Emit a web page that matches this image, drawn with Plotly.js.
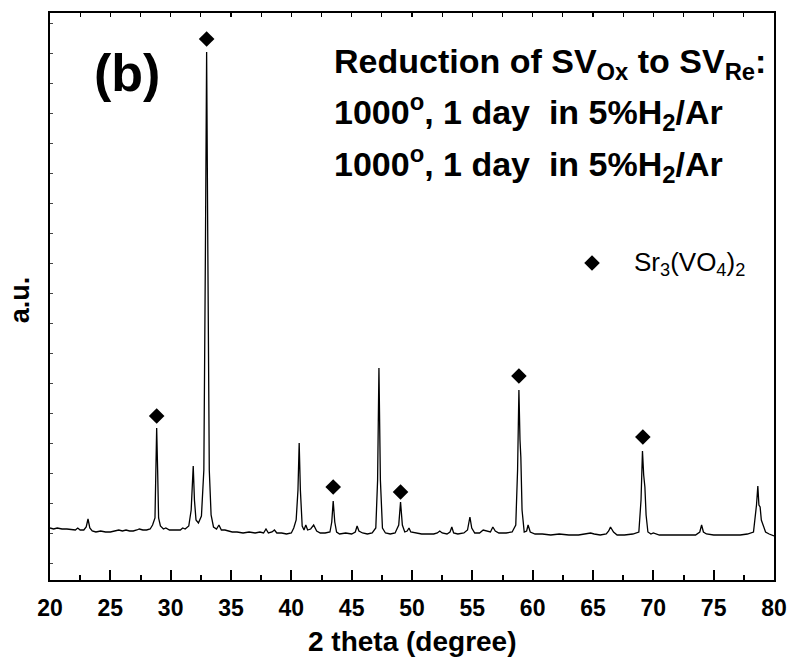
<!DOCTYPE html>
<html>
<head>
<meta charset="utf-8">
<script src="https://cdn.plot.ly/plotly-3.0.1.min.js"></script>
<style>html,body{margin:0;padding:0;background:#fff;}#chart{width:787px;height:657px;}</style>
</head>
<body>
<div id="chart"></div>
<script>
// XRD pattern (2 theta in degrees, intensity in a.u.)
const twoTheta = [
20.0,20.3,20.6,21.0,21.4,21.8,22.1,22.3,22.5,22.8,23.0,23.15,23.3,23.5,23.8,24.2,24.6,25.0,25.4,25.7,
26.0,26.3,26.6,26.9,27.2,27.4,27.7,28.0,28.3,28.5,28.7,28.78,28.84,28.92,29.0,29.15,29.4,29.6,29.9,30.2,
30.5,30.8,31.0,31.2,31.5,31.7,31.87,31.97,32.1,32.3,32.55,32.75,32.88,32.98,33.08,33.2,33.35,33.55,33.8,34.0,
34.2,34.5,34.8,35.1,35.5,36.0,36.5,37.0,37.4,37.7,37.9,38.1,38.4,38.6,38.8,39.2,39.6,40.0,40.2,40.4,
40.55,40.65,40.75,40.9,41.05,41.2,41.35,41.6,41.85,42.1,42.4,42.8,43.2,43.35,43.47,43.6,43.75,44.0,44.5,45.0,
45.3,45.45,45.6,45.9,46.3,46.7,47.0,47.15,47.26,47.38,47.55,47.8,48.2,48.6,48.9,49.05,49.2,49.4,49.6,49.75,
49.9,50.3,50.8,51.3,51.8,52.1,52.3,52.5,52.9,53.15,53.3,53.45,53.8,54.3,54.6,54.8,54.95,55.2,55.6,55.9,
56.2,56.5,56.7,56.9,57.2,57.8,58.3,58.6,58.75,58.86,58.95,59.02,59.12,59.3,59.5,59.62,59.8,60.2,60.8,61.5,
62.2,63.0,63.8,64.5,64.8,65.1,65.6,66.1,66.3,66.45,66.7,67.0,67.6,68.3,68.8,68.98,69.1,69.2,69.3,69.4,
69.55,69.8,70.0,70.5,71.2,72.0,72.8,73.5,73.85,74.0,74.15,74.4,75.0,75.8,76.5,77.2,77.8,78.3,78.55,78.66,
78.75,78.85,78.95,79.1,79.3,79.6,80.0
];
const intensity = [
52,51,52,51,51,50,50,52,50,50,53,61,52,49,48,49,48,48,49,50,
49,50,49,49,50,51,50,50,51,55,62,110,152,110,62,54,51,52,50,50,
50,50,52,51,54,70,114,80,60,57,64,110,330,528,330,110,65,53,51,55,
50,50,49,48,48,47,48,47,48,47,51,47,48,50,47,47,46,47,52,60,
90,137,90,54,50,55,50,51,55,49,47,47,48,58,79,58,48,46,47,46,
48,54,49,47,46,47,52,100,212,100,52,47,46,47,55,78,55,48,49,52,
48,47,46,46,46,47,49,47,46,48,53,47,46,47,50,63,52,47,47,50,
49,48,53,49,47,47,48,55,110,190,140,123,70,48,49,55,48,46,46,45,
46,45,45,46,47,46,45,46,49,53,48,45,45,46,48,80,129,105,93,65,
48,46,47,45,45,45,45,45,48,55,48,46,45,45,45,45,46,48,75,94,
75,73,60,54,48,46,44
];
// Sr3(VO4)2 reflection markers
const markX = [28.84, 32.98, 43.47, 49.05, 58.86, 69.13];
const markY = [164, 541, 93, 88, 204, 143];
const legendX = [64.92];
const legendY = [317];
const xTicks = [20,25,30,35,40,45,50,55,60,65,70,75,80];

const FONT = "Liberation Sans, Arial, Helvetica, sans-serif";

const traces = [
  {x: twoTheta, y: intensity, type: 'scatter', mode: 'lines',
   line: {color: '#000', width: 1.3}, hoverinfo: 'skip', showlegend: false},
  {x: markX, y: markY, type: 'scatter', mode: 'markers', xaxis: 'x2',
   marker: {symbol: 'diamond', size: 12, color: '#000'}, showlegend: false},
  {x: legendX, y: legendY, type: 'scatter', mode: 'markers', xaxis: 'x2',
   marker: {symbol: 'diamond', size: 12, color: '#000'}, showlegend: false}
];

const layout = {
  width: 787, height: 657,
  margin: {l: 50, r: 13, t: 13, b: 77},
  paper_bgcolor: '#fff', plot_bgcolor: '#fff',
  font: {family: FONT, color: '#000'},
  showlegend: false,
  xaxis: {
    range: [20, 80], tickmode: 'array', tickvals: xTicks,
    ticktext: xTicks.map(v => '<b>' + v + '</b>'),
    ticks: 'inside', ticklen: 10, tickwidth: 2, tickcolor: '#000',
    minor: {dtick: 2.5, ticks: 'inside', ticklen: 5, tickwidth: 2, tickcolor: '#000'},
    showline: true, linecolor: '#000', linewidth: 2, mirror: true,
    showgrid: false, zeroline: false,
    tickfont: {size: 23, family: FONT, color: '#000'},
    ticklabelstandoff: 6
  },
  xaxis2: {
    range: [20, 80], overlaying: 'x', side: 'top', anchor: 'y',
    dtick: 2.5, tick0: 20, ticks: 'inside', ticklen: 4, tickwidth: 1.2, tickcolor: '#000',
    showticklabels: false, showgrid: false, zeroline: false, showline: false
  },
  yaxis: {
    range: [0, 567], ticks: 'inside', ticklen: 3, tickwidth: 1, tickcolor: '#444',
    tick0: 17, dtick: 30,
    showticklabels: false, showline: true, linecolor: '#000', linewidth: 2, mirror: true,
    showgrid: false, zeroline: false
  },
  annotations: [
    {x: 26.34, y: 507, xref: 'x', yref: 'y', text: '<b>(b)</b>', showarrow: false,
     xanchor: 'center', yanchor: 'middle', font: {size: 52, family: FONT}},
    {x: 43.4, y: 517, xref: 'x', yref: 'y', text: '<b>Reduction of SV<sub>Ox</sub> to SV<sub>Re</sub>:</b>',
     showarrow: false, xanchor: 'left', yanchor: 'middle', font: {size: 34, family: FONT}},
    {x: 43.4, y: 468, xref: 'x', yref: 'y', text: '<b>1000<sup>o</sup>, 1 day &nbsp;in 5%H<sub>2</sub>/Ar</b>',
     showarrow: false, xanchor: 'left', yanchor: 'middle', font: {size: 34, family: FONT}},
    {x: 43.4, y: 416, xref: 'x', yref: 'y', text: '<b>1000<sup>o</sup>, 1 day &nbsp;in 5%H<sub>2</sub>/Ar</b>',
     showarrow: false, xanchor: 'left', yanchor: 'middle', font: {size: 34, family: FONT}},
    {x: 68.2, y: 317, xref: 'x', yref: 'y', text: 'Sr<sub>3</sub>(VO<sub>4</sub>)<sub>2</sub>',
     showarrow: false, xanchor: 'left', yanchor: 'middle', font: {size: 26, family: FONT}},
    {x: 0.5, y: -0.1076, xref: 'paper', yref: 'paper', text: '<b>2 theta (degree)</b>',
     showarrow: false, xanchor: 'center', yanchor: 'middle', font: {size: 28, family: FONT}},
    {x: -0.041, y: 0.494, xref: 'paper', yref: 'paper', text: '<b>a.u.</b>', textangle: -90,
     showarrow: false, xanchor: 'center', yanchor: 'middle', font: {size: 27, family: FONT}}
  ]
};

Plotly.newPlot('chart', traces, layout, {displayModeBar: false, staticPlot: true});
</script>
</body>
</html>
